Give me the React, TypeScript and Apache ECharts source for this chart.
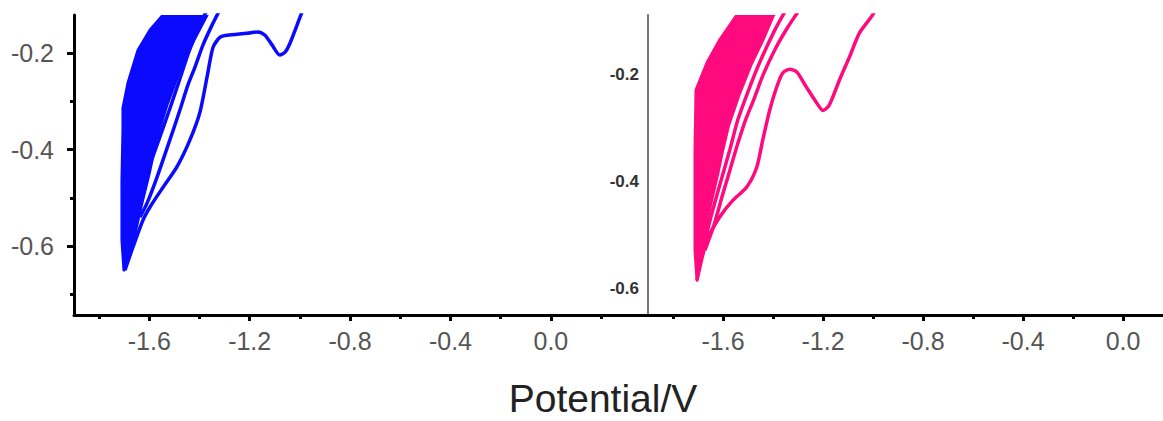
import React, { useEffect, useRef } from "react";
import * as echarts from "echarts";

// ---- tick labels ----
const xMajorTicks = [-1.6, -1.2, -0.8, -0.4, 0.0];
const xMinorTicks = [-1.8, -1.4, -1.0, -0.6, -0.2, 0.2];
const leftYMajor = [-0.2, -0.4, -0.6];
const leftYMinor = [-0.3, -0.5, -0.7];
const rightYLabels = [-0.2, -0.4, -0.6];
const xTitle = "Potential/V";

// ---- left panel (blue) ----
// dense band of overlapping cycles (outline)
const blueBand: [number, number][] = [
  [-1.701, -0.65], [-1.709, -0.588], [-1.709, -0.463], [-1.705, -0.36], [-1.705, -0.314],
  [-1.685, -0.262], [-1.645, -0.194], [-1.597, -0.152], [-1.545, -0.121], [-1.51, -0.09],
  [-1.33, -0.09], [-1.37, -0.121], [-1.422, -0.173], [-1.478, -0.235], [-1.53, -0.308],
  [-1.572, -0.38], [-1.6, -0.449], [-1.633, -0.519], [-1.663, -0.588],
];
// first (outer) cycle with the re-oxidation wave
const blueCycle1: [number, number][] = [
  [-1.697, -0.65], [-1.665, -0.602], [-1.625, -0.546], [-1.597, -0.519], [-1.545, -0.478],
  [-1.49, -0.436], [-1.438, -0.38], [-1.398, -0.322], [-1.37, -0.25], [-1.346, -0.188],
  [-1.318, -0.167], [-1.29, -0.163], [-1.211, -0.159], [-1.167, -0.156], [-1.139, -0.163],
  [-1.111, -0.183], [-1.08, -0.204], [-1.059, -0.198], [-1.039, -0.179], [-0.999, -0.125],
  [-0.976, -0.094],
];
const blueCycle2: [number, number][] = [
  [-1.637, -0.54], [-1.609, -0.511], [-1.569, -0.457], [-1.518, -0.38], [-1.478, -0.318],
  [-1.446, -0.266], [-1.418, -0.229], [-1.386, -0.183], [-1.35, -0.142], [-1.31, -0.101],
];
const blueCycle3: [number, number][] = [
  [-1.605, -0.442], [-1.562, -0.38], [-1.52, -0.318], [-1.48, -0.256], [-1.44, -0.194],
  [-1.4, -0.142], [-1.36, -0.101],
];

// ---- right panel (pink) ----
const pinkBand: [number, number][] = [
  [-1.704, -0.585], [-1.712, -0.529], [-1.712, -0.342], [-1.708, -0.23], [-1.664, -0.179],
  [-1.613, -0.136], [-1.545, -0.09], [-1.513, -0.062],
  [-1.345, -0.062], [-1.398, -0.09], [-1.44, -0.136], [-1.488, -0.183], [-1.536, -0.239],
  [-1.577, -0.295], [-1.601, -0.342], [-1.622, -0.389], [-1.65, -0.445], [-1.678, -0.51],
];
const pinkCycle1: [number, number][] = [
  [-1.704, -0.585], [-1.664, -0.51], [-1.613, -0.467], [-1.561, -0.436], [-1.505, -0.411],
  [-1.465, -0.374], [-1.441, -0.323], [-1.413, -0.267], [-1.385, -0.224], [-1.361, -0.198],
  [-1.333, -0.191], [-1.305, -0.196], [-1.267, -0.224], [-1.225, -0.254], [-1.2, -0.268],
  [-1.175, -0.258], [-1.134, -0.211], [-1.094, -0.168], [-1.054, -0.123], [-1.002, -0.09],
  [-0.982, -0.071],
];
const pinkCycle2: [number, number][] = [
  [-1.672, -0.529], [-1.636, -0.482], [-1.602, -0.426], [-1.572, -0.379], [-1.543, -0.333],
  [-1.51, -0.286], [-1.478, -0.249], [-1.44, -0.202], [-1.393, -0.155], [-1.343, -0.114],
  [-1.295, -0.08], [-1.275, -0.062],
];
const pinkCycle3: [number, number][] = [
  [-1.68, -0.529], [-1.652, -0.473], [-1.613, -0.407], [-1.573, -0.342], [-1.541, -0.286],
  [-1.501, -0.234], [-1.453, -0.178], [-1.393, -0.118], [-1.353, -0.084],
];

const BLUE = "#0a0aff";
const PINK = "#ff0a7e";
const FONT = "Liberation Sans";

const fmt = (v: number) => Number(v).toFixed(1);

function xAxesFor(gridIndex: number, max: number) {
  const base = {
    type: "value" as const,
    gridIndex,
    position: "bottom" as const,
    min: -1.9,
    max,
    splitLine: { show: false },
  };
  return [
    {
      ...base,
      axisLine: { onZero: false, lineStyle: { color: "#000", width: 3 } },
      axisTick: {
        show: true,
        customValues: xMajorTicks,
        length: 6,
        lineStyle: { color: "#000", width: 3 },
      },
      axisLabel: {
        customValues: xMajorTicks,
        formatter: fmt,
        color: "#555",
        fontSize: 25,
        fontFamily: FONT,
        margin: 13,
      },
    },
    {
      ...base,
      axisLine: { show: false, onZero: false },
      axisTick: {
        show: true,
        customValues: xMinorTicks.filter((v) => v < max),
        length: 4,
        lineStyle: { color: "#000", width: 3 },
      },
      axisLabel: { show: false },
    },
  ];
}

function bandSeries(data: [number, number][], xIdx: number, yIdx: number, color: string) {
  return {
    type: "custom",
    xAxisIndex: xIdx,
    yAxisIndex: yIdx,
    clip: true,
    silent: true,
    data: [0],
    renderItem: (params: any, api: any) => {
      const pts = data.map((p) => api.coord(p));
      return {
        type: "polygon",
        shape: { points: pts },
        style: { fill: color, stroke: color, lineWidth: 3, lineJoin: "round" },
      };
    },
  };
}

function lineSeries(data: [number, number][], xIdx: number, yIdx: number, color: string) {
  return {
    type: "line",
    xAxisIndex: xIdx,
    yAxisIndex: yIdx,
    data,
    showSymbol: false,
    smooth: 0.25,
    clip: true,
    lineStyle: { color, width: 3.5 },
    silent: true,
  };
}

export default function App() {
  const ref = useRef<HTMLDivElement>(null);
  useEffect(() => {
    document.body.style.margin = "0";
    const chart = echarts.init(ref.current!, null, { renderer: "svg" });
    const leftMax = 0.395;
    const rightMax = 0.16;
    const option: any = {
      animation: false,
      backgroundColor: "#fff",
      grid: [
        { left: 74, top: 15, width: 576, height: 300 },
        { left: 648, top: 15, width: 516, height: 300 },
      ],
      xAxis: [...xAxesFor(0, leftMax), ...xAxesFor(1, rightMax)],
      yAxis: [
        {
          type: "value",
          gridIndex: 0,
          position: "left",
          min: -0.743,
          max: -0.121,
          splitLine: { show: false },
          axisLine: { onZero: false, lineStyle: { color: "#000", width: 3 } },
          axisTick: {
            show: true,
            customValues: leftYMajor,
            length: 7,
            lineStyle: { color: "#000", width: 3 },
          },
          axisLabel: {
            customValues: leftYMajor,
            formatter: fmt,
            color: "#555",
            fontSize: 25,
            fontFamily: FONT,
            margin: 20,
          },
        },
        {
          type: "value",
          gridIndex: 1,
          position: "left",
          min: -0.65,
          max: -0.0897,
          splitLine: { show: false },
          axisLine: { onZero: false, lineStyle: { color: "#777", width: 2 } },
          axisTick: { show: false },
          axisLabel: {
            customValues: rightYLabels,
            formatter: fmt,
            color: "#333",
            fontSize: 17,
            fontWeight: "bold",
            fontFamily: FONT,
            margin: 9,
          },
        },
        {
          type: "value",
          gridIndex: 0,
          position: "left",
          min: -0.743,
          max: -0.121,
          splitLine: { show: false },
          axisLine: { show: false, onZero: false },
          axisTick: {
            show: true,
            customValues: leftYMinor,
            length: 4,
            lineStyle: { color: "#000", width: 3 },
          },
          axisLabel: { show: false },
        },
      ],
      graphic: [
        {
          type: "text",
          x: 603,
          y: 398,
          style: {
            text: xTitle,
            font: `39px "${FONT}"`,
            fill: "#222",
            textAlign: "center",
            textVerticalAlign: "middle",
          },
        },
      ],
      series: [
        bandSeries(blueBand, 0, 0, BLUE),
        lineSeries(blueCycle1, 0, 0, BLUE),
        lineSeries(blueCycle2, 0, 0, BLUE),
        lineSeries(blueCycle3, 0, 0, BLUE),
        bandSeries(pinkBand, 2, 1, PINK),
        lineSeries(pinkCycle1, 2, 1, PINK),
        lineSeries(pinkCycle2, 2, 1, PINK),
        lineSeries(pinkCycle3, 2, 1, PINK),
      ],
    };
    chart.setOption(option);
    return () => chart.dispose();
  }, []);
  return <div ref={ref} style={{ width: 1163, height: 421 }} />;
}
